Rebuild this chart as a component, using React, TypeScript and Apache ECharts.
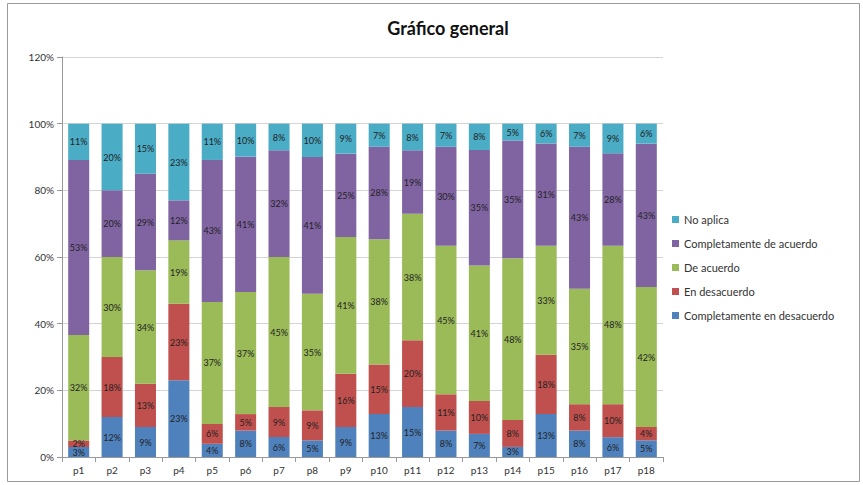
import React, { useEffect, useRef } from "react";
import * as echarts from "echarts";

const categories = ["p1","p2","p3","p4","p5","p6","p7","p8","p9","p10","p11","p12","p13","p14","p15","p16","p17","p18"];
const seriesNames = ["Completamente en desacuerdo","En desacuerdo","De acuerdo","Completamente de acuerdo","No aplica"];
const compDesacuerdo = [3,12,9,23,4,8,6,5,9,13,15,8,7,3,13,8,6,5];
const enDesacuerdo = [2,18,13,23,6,5,9,9,16,15,20,11,10,8,18,8,10,4];
const deAcuerdo = [32,30,34,19,37,37,45,35,41,38,38,45,41,48,33,35,48,42];
const compDeAcuerdo = [53,20,29,12,43,41,32,41,25,28,19,30,35,35,31,43,28,43];
const noAplica = [11,20,15,23,11,10,8,10,9,7,8,7,8,5,6,7,9,6];
const yTicks = [0,20,40,60,80,100,120];
const colors = ["#4F81BD","#C0504D","#9BBB59","#8064A2","#4BACC6"];

export default function App() {
  const ref = useRef<HTMLDivElement>(null);
  useEffect(() => {
    if (!ref.current) return;
    const chart = echarts.init(ref.current, null, { renderer: "svg" });
    const all = [compDesacuerdo, enDesacuerdo, deAcuerdo, compDeAcuerdo, noAplica];
    const totals = categories.map((_, i) => all.reduce((s, a) => s + a[i], 0));
    const font = "Lato, 'Open Sans', sans-serif";
    chart.setOption({
      animation: false,
      color: colors,
      textStyle: { fontFamily: font },
      title: {
        text: "Gráfico general",
        left: 443,
        textAlign: "center",
        top: 14,
        textStyle: { fontSize: 18, fontWeight: "bold", color: "#111", fontFamily: font },
      },
      graphic: [
        { type: "rect", shape: { x: 7.5, y: 3.5, width: 852, height: 478 }, style: { fill: "none", stroke: "#9a9a9a", lineWidth: 1 } },
      ],
      legend: {
        orient: "vertical",
        left: 667,
        top: 209,
        itemWidth: 7,
        itemHeight: 7,
        itemGap: 13,
        icon: "rect",
        data: [...seriesNames].reverse(),
        textStyle: { fontSize: 11, color: "#333", fontFamily: font },
      },
      grid: { left: 62, right: 200, top: 57, bottom: 28 },
      xAxis: {
        type: "category",
        data: categories,
        axisLine: { lineStyle: { color: "#999" } },
        axisTick: { show: true, lineStyle: { color: "#999" } },
        axisLabel: { fontSize: 10, color: "#333", margin: 8 },
      },
      yAxis: {
        type: "value",
        min: yTicks[0],
        max: yTicks[yTicks.length - 1],
        interval: 20,
        axisLine: { show: true, lineStyle: { color: "#999" } },
        axisTick: { show: true, lineStyle: { color: "#999" } },
        axisLabel: { formatter: "{value}%", fontSize: 10, color: "#333" },
        splitLine: { lineStyle: { color: "#d4d4d4" } },
      },
      series: all.map((arr, si) => ({
        name: seriesNames[si],
        type: "bar",
        stack: "total",
        barCategoryGap: "37%",
        data: arr.map((v, i) => (v / totals[i]) * 100),
        label: {
          show: true,
          position: "inside",
          fontSize: 9,
          color: "#222",
          formatter: (p: any) => `${arr[p.dataIndex]}%`,
        },
      })),
    });
    return () => chart.dispose();
  }, []);
  return <div ref={ref} style={{ position: "absolute", left: 0, top: 0, width: 863, height: 485, background: "#fff" }} />;
}
